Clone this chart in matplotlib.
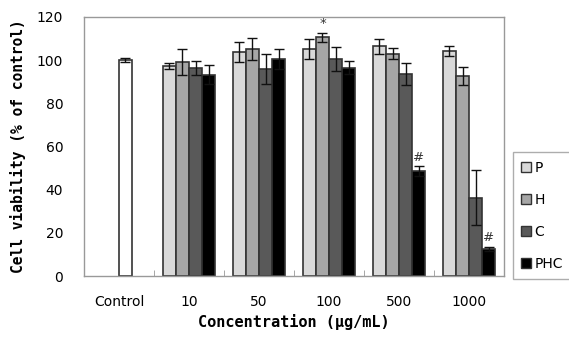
import numpy as np
import matplotlib
matplotlib.use("Agg")
import matplotlib.pyplot as plt
from matplotlib.patches import Patch

# datos
grupos = ["Control", "10", "50", "100", "500", "1000"]
series = ["P", "H", "C", "PHC"]
control_val = 100.0
control_err = 1.0
valores = {
    "P":   [97.3, 103.6, 105.3, 106.4, 104.1],
    "H":   [99.1, 105.3, 110.6, 103.0, 92.5],
    "C":   [96.5, 95.9, 100.5, 93.6, 36.3],
    "PHC": [93.3, 100.7, 96.5, 48.5, 12.5],
}
errores = {
    "P":   [1.5, 4.6, 4.7, 3.4, 2.4],
    "H":   [5.9, 5.0, 2.2, 2.6, 4.1],
    "C":   [3.3, 7.0, 5.4, 5.2, 12.8],
    "PHC": [4.5, 4.6, 3.0, 2.3, 1.1],
}
colores = {"P": "#d9d9d9", "H": "#a6a6a6", "C": "#595959", "PHC": "#000000"}
# marcas de significancia: (grupo, serie, simbolo)
marcas = [(3, "H", "*"), (4, "PHC", "#"), (5, "PHC", "#")]

fig = plt.figure(figsize=(5.69, 3.37), dpi=100)
ax = fig.add_axes([0.1476, 0.181, 0.7382, 0.7686])

ancho = 0.186
x = np.arange(1, len(grupos))
err_kw = dict(ecolor="#111111", elinewidth=1.0, capsize=3.5, capthick=1.0)

ax.bar(0 + ancho / 2, control_val, ancho, color="white", edgecolor="#333333",
       linewidth=1.2, yerr=control_err, error_kw=err_kw)
for i, s in enumerate(series):
    pos = x + (i - 1.5) * ancho
    ax.bar(pos, valores[s], ancho, color=colores[s], edgecolor="#333333",
           linewidth=1.2, yerr=errores[s], error_kw=err_kw, label=s)

for g, s, sim in marcas:
    i = series.index(s)
    xp = g + (i - 1.5) * ancho
    yp = valores[s][g - 1] + errores[s][g - 1] + 1.0
    ax.text(xp, yp, sim, ha="center", va="bottom", fontsize=9.5, color="#333333")

ax.set_xlim(-0.5, 5.5)
ax.set_ylim(0, 120)
ax.set_yticks(range(0, 121, 20))
ax.set_xticks(range(len(grupos)))
ax.set_xticklabels(grupos)
ax.set_xticks(np.arange(0.5, 5.5, 1), minor=True)
ax.tick_params(axis="x", which="major", length=0, pad=14, labelsize=10)
ax.tick_params(axis="x", which="minor", direction="in", length=4, color="#999999")
ax.tick_params(axis="y", length=0, pad=15, labelsize=10)
for lado in ax.spines.values():
    lado.set_color("#999999")
    lado.set_linewidth(1.0)

ax.set_ylabel("Cell viability (% of control)", family="DejaVu Sans Mono",
              fontweight="bold", fontsize=10.5, labelpad=8)
ax.set_xlabel("Concentration (\u03bcg/mL)", family="DejaVu Sans Mono",
              fontweight="bold", fontsize=11, labelpad=3)

handles = [Patch(facecolor=colores[s], edgecolor="#333333", label=s) for s in series]
fig.legend(handles=handles, loc="lower left", bbox_to_anchor=(0.9016, 0.172),
           frameon=True, fancybox=False, edgecolor="#999999", fontsize=10,
           handlelength=0.7, handleheight=0.7, handletextpad=0.25,
           labelspacing=1.3, borderpad=0.6, borderaxespad=0)

fig.savefig("out.png", dpi=100)
